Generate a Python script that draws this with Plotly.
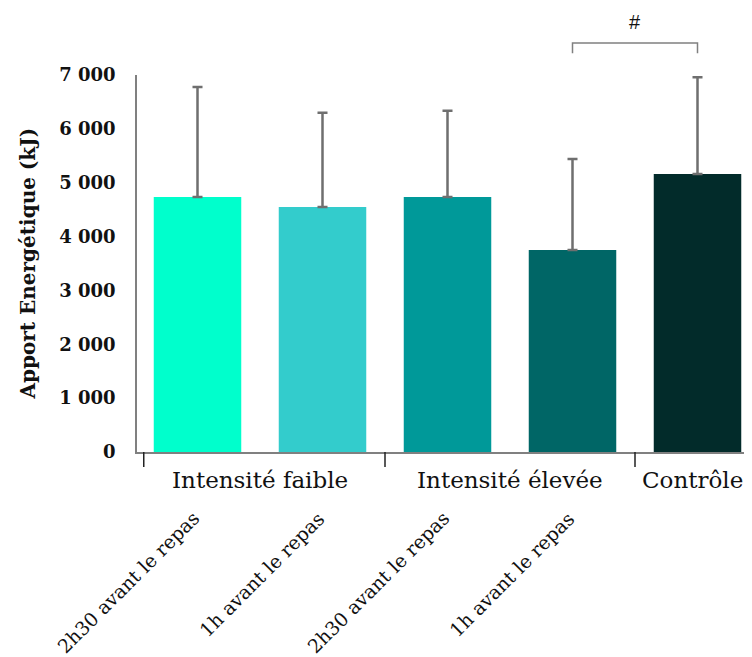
import plotly.graph_objects as go

# ---- data ----
conditions = ["2h30 avant le repas", "1h avant le repas",
              "2h30 avant le repas", "1h avant le repas", ""]
groups = ["Intensité faible", "Intensité élevée", "Contrôle"]
group_centers = [0.5, 2.5, 4.0]
values = [4735, 4550, 4735, 3750, 5160]
errors = [2040, 1750, 1600, 1690, 1800]
colors = ["#00FFCC", "#33CCCC", "#009999", "#006666", "#022B2A"]
tick_vals = [0, 1000, 2000, 3000, 4000, 5000, 6000, 7000]
tick_text = ["0", "1 000", "2 000", "3 000", "4 000", "5 000", "6 000", "7 000"]
y_title = "Apport Energétique (kJ)"
sig_pair = (3, 4)
sig_label = "#"

x = list(range(len(values)))

fig = go.Figure()
fig.add_trace(go.Bar(
    x=x, y=values,
    marker=dict(color=colors, line=dict(width=0)),
    width=0.7,
    error_y=dict(type="data", symmetric=False, array=errors,
                 arrayminus=[0] * len(errors),
                 color="#6f6f6f", thickness=2.5, width=5),
    showlegend=False,
))

SERIF = "DejaVu Serif"
annotations = []
# y-axis title
annotations.append(dict(text=f"<b>{y_title}</b>", xref="paper", yref="paper",
                        x=0, y=0.5, xshift=-110, textangle=-90,
                        showarrow=False, xanchor="center", yanchor="middle",
                        font=dict(family=SERIF, size=20, color="#111")))
# group labels
for k, (g, c) in enumerate(zip(groups, group_centers)):
    last = k == len(groups) - 1
    annotations.append(dict(text=g, xref="x", yref="paper", x=c, y=0,
                            yshift=-28, xshift=-5 if last else 0,
                            showarrow=False,
                            xanchor="center", yanchor="middle",
                            font=dict(family=SERIF, size=23, color="#111")))
# rotated condition labels
for i, t in enumerate(conditions):
    if not t:
        continue
    annotations.append(dict(text=t, xref="x", yref="paper", x=i, y=0,
                            xshift=9, yshift=-52, textangle=-45,
                            showarrow=False, xanchor="right", yanchor="top",
                            font=dict(family=SERIF, size=19, color="#111")))
# significance label
annotations.append(dict(text=sig_label, xref="x", yref="paper",
                        x=(sig_pair[0] + sig_pair[1]) / 2, y=1.14,
                        showarrow=False, xanchor="center", yanchor="middle",
                        font=dict(family="Liberation Sans", size=20, color="#111")))

shapes = []
# group separator ticks
for b in [-0.43, 1.5, 3.5]:
    shapes.append(dict(type="line", xref="x", yref="paper", x0=b, x1=b,
                       y0=0, y1=-0.04, line=dict(color="#222", width=1.5)))
# significance bracket
a, b = sig_pair
shapes.append(dict(type="path", xref="x", yref="paper",
                   path=f"M {a},1.058 L {a},1.085 L {b},1.085 L {b},1.058",
                   line=dict(color="#808080", width=1.5)))

# the page body has an 8px margin, so the figure is 8px smaller on each axis
fig.update_layout(
    width=744, height=649,
    margin=dict(l=129, r=0, t=67, b=205),
    plot_bgcolor="white", paper_bgcolor="white",
    bargap=0.3,
    annotations=annotations, shapes=shapes,
    xaxis=dict(range=[-0.484, 4.436], showline=True, linecolor="#808080",
               linewidth=1.5, showgrid=False, zeroline=False,
               showticklabels=False, ticks="", fixedrange=True),
    yaxis=dict(range=[0, 7000], showline=True, linecolor="#808080",
               linewidth=1.5, showgrid=False, zeroline=False,
               tickvals=tick_vals, ticktext=[f"<b>{t}</b>" for t in tick_text],
               ticks="outside", ticklen=16, tickcolor="rgba(0,0,0,0)",
               tickfont=dict(family=SERIF, size=18, color="#111"),
               fixedrange=True),
    font=dict(family=SERIF),
)

fig.write_html("out.html")
